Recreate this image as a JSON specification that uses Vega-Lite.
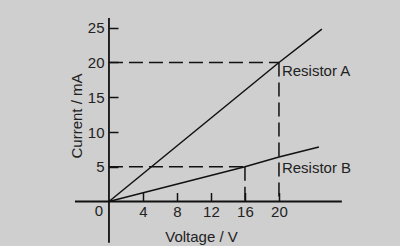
{
  "$schema": "https://vega.github.io/schema/vega-lite/v6.json",
  "width": 400,
  "height": 246,
  "autosize": "none",
  "padding": 0,
  "background": "#cfcfcf",
  "config": {"view": {"stroke": null}, "font": "Liberation Sans"},
  "encoding": {
    "x": {
      "field": "x",
      "type": "quantitative",
      "scale": {"domain": [-12.82, 34.24], "nice": false, "zero": false},
      "axis": {
        "orient": "bottom",
        "values": [4, 8, 12, 16, 20],
        "offset": -44.5,
        "domain": false,
        "grid": false,
        "tickSize": -9,
        "tickWidth": 1.5,
        "tickColor": "#111",
        "labelPadding": 12,
        "labelFontSize": 15,
        "labelColor": "#222",
        "labelFlush": false,
        "labelOverlap": false,
        "title": "Voltage / V",
        "titleFontSize": 15,
        "titleFontWeight": "normal",
        "titleColor": "#222",
        "titleX": 201,
        "titleY": 35,
        "titleAlign": "center",
        "titleBaseline": "middle"
      }
    },
    "y": {
      "field": "y",
      "type": "quantitative",
      "scale": {"domain": [-6.4, 28.99], "nice": false, "zero": false},
      "axis": {
        "orient": "left",
        "values": [5, 10, 15, 20, 25],
        "offset": -109,
        "domain": false,
        "grid": false,
        "tickSize": -9,
        "tickWidth": 1.5,
        "tickColor": "#111",
        "labelPadding": 14,
        "labelFontSize": 15,
        "labelColor": "#222",
        "labelFlush": false,
        "labelOverlap": false,
        "title": "Current / mA",
        "titleFontSize": 15,
        "titleFontWeight": "normal",
        "titleColor": "#222",
        "titleAngle": -90,
        "titleX": -33,
        "titleY": 115.5,
        "titleAlign": "center",
        "titleBaseline": "middle"
      }
    }
  },
  "layer": [
    {
      "data": {"values": [
        {"x": -4, "y": 0, "x2": 27.4, "y2": 0},
        {"x": 0, "y": -5.95, "x2": 0, "y2": 26.4}
      ]},
      "mark": {"type": "rule", "color": "#111", "strokeWidth": 1.8},
      "encoding": {"x2": {"field": "x2"}, "y2": {"field": "y2"}}
    },
    {
      "data": {"values": [
        {"x": 0, "y": 20, "x2": 20, "y2": 20},
        {"x": 20, "y": 20, "x2": 20, "y2": 0},
        {"x": 0, "y": 5, "x2": 16, "y2": 5},
        {"x": 16, "y": 5, "x2": 16, "y2": 0}
      ]},
      "mark": {"type": "rule", "color": "#111", "strokeWidth": 1.5, "strokeDash": [14, 6]},
      "encoding": {"x2": {"field": "x2"}, "y2": {"field": "y2"}}
    },
    {
      "data": {"values": [
        {"r": "A", "x": 0, "y": 0},
        {"r": "A", "x": 20, "y": 20},
        {"r": "A", "x": 25.05, "y": 24.8},
        {"r": "B", "x": 0, "y": 0},
        {"r": "B", "x": 16, "y": 5},
        {"r": "B", "x": 20, "y": 6.4},
        {"r": "B", "x": 24.7, "y": 7.85}
      ]},
      "mark": {"type": "line", "color": "#111", "strokeWidth": 1.5},
      "encoding": {"detail": {"field": "r"}}
    },
    {
      "data": {"values": [
        {"label": "Resistor A", "x": 20.35, "y": 18.78},
        {"label": "Resistor B", "x": 20.35, "y": 4.82},
        {"label": "0", "x": -1.67, "y": -1.37}
      ]},
      "mark": {"type": "text", "align": "left", "baseline": "middle", "fontSize": 15, "color": "#222", "font": "Liberation Sans"},
      "encoding": {"text": {"field": "label"}}
    }
  ]
}
